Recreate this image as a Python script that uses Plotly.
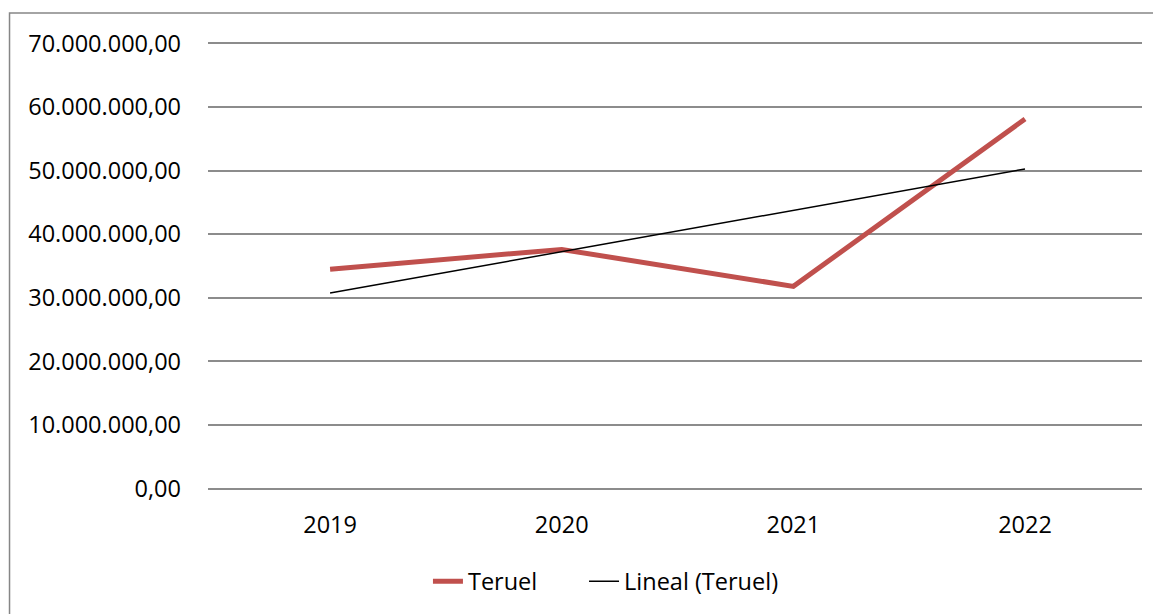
import numpy as np
import plotly.graph_objects as go

years = ["2019", "2020", "2021", "2022"]
teruel = [34500000, 37600000, 31800000, 58100000]
y_ticks = [0, 10000000, 20000000, 30000000, 40000000, 50000000, 60000000, 70000000]
y_tick_labels = ["0,00", "10.000.000,00", "20.000.000,00", "30.000.000,00",
                 "40.000.000,00", "50.000.000,00", "60.000.000,00", "70.000.000,00"]

# Linear trendline (least squares, as "Lineal (Teruel)")
xi = np.arange(1, len(teruel) + 1)
coef = np.polyfit(xi, teruel, 1)
trend = list(np.polyval(coef, xi))

FONT = "Open Sans"
FS = 23.5

fig = go.Figure()
fig.add_trace(go.Scatter(x=years, y=teruel, mode="lines", name="Teruel",
                         line=dict(color="#C0504D", width=5), legend="legend"))
fig.add_trace(go.Scatter(x=years, y=trend, mode="lines", name="Lineal (Teruel)",
                         line=dict(color="#000000", width=1.5), legend="legend2"))

leg_common = dict(orientation="h", y=-0.204, yanchor="middle", xanchor="left",
                  font=dict(family=FONT, size=FS, color="#000000"),
                  bgcolor="rgba(0,0,0,0)")

fig.update_layout(
    width=1161, height=614,
    margin=dict(l=200, r=27, t=34, b=132),
    paper_bgcolor="white", plot_bgcolor="white",
    font=dict(family=FONT, size=FS, color="#000000"),
    showlegend=True,
    legend=dict(x=0.2355, **leg_common),
    legend2=dict(x=0.4026, **leg_common),
    hovermode=False,
    shapes=[dict(type="rect", xref="paper", yref="paper",
                 x0=-0.2125, x1=1.2, y0=-0.5, y1=1.065,
                 line=dict(color="#868686", width=1.5), fillcolor="rgba(0,0,0,0)",
                 layer="below")],
)
fig.update_xaxes(type="category", range=[-0.527, 3.505], showgrid=False, zeroline=False,
                 showline=False, ticks="", ticklabelstandoff=18,
                 tickfont=dict(family=FONT, size=FS, color="#000000"))
fig.update_yaxes(range=[-200000, 70200000], tickvals=y_ticks, ticktext=y_tick_labels,
                 showgrid=True, gridcolor="#8C8C8C", gridwidth=1.5, zeroline=False,
                 showline=False, ticks="", ticklabelstandoff=26,
                 tickfont=dict(family=FONT, size=FS, color="#000000"))

fig.write_html("out.html")
